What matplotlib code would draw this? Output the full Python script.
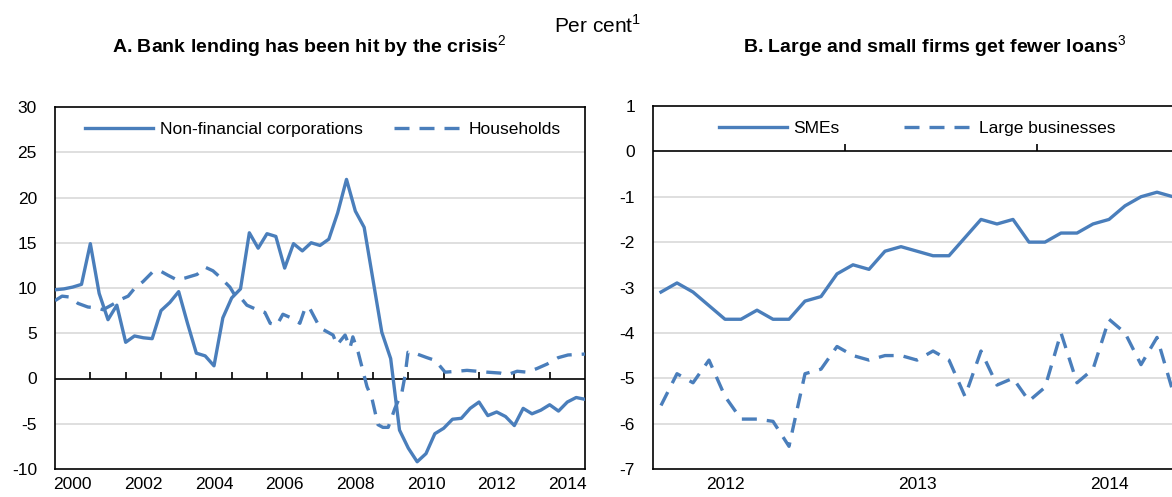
import numpy as np
import matplotlib.pyplot as plt

plt.rcParams['font.family'] = ['Liberation Sans', 'DejaVu Sans']
plt.rcParams['mathtext.fontset'] = 'custom'
plt.rcParams['mathtext.rm'] = 'Liberation Sans'
plt.rcParams['axes.unicode_minus'] = False

blue = '#4a7ebb'
grid_col = '#d9d9d9'

# panel A - quarterly, 2000 Q1 .. end 2014
nfc = [9.8, 9.9, 10.1, 10.4, 14.9, 9.4, 6.5, 8.1, 4.0, 4.7, 4.5, 4.4, 7.5, 8.4, 9.6,
       6.1, 2.8, 2.5, 1.4, 6.7, 8.9, 9.9, 16.1, 14.4, 16.0, 15.7, 12.2, 14.9, 14.1, 15.0,
       14.7, 15.4, 18.3, 22.0, 18.5, 16.7, 10.9, 5.1, 2.2, -5.7, -7.7, -9.2, -8.3, -6.1,
       -5.5, -4.5, -4.4, -3.3, -2.6, -4.1, -3.7, -4.2, -5.2, -3.3, -3.9, -3.5, -2.9, -3.6,
       -2.6, -2.1, -2.3]
nfc_x = 2000 + 0.25 * np.arange(len(nfc))

hh_x = [2000.00, 2000.20, 2000.42, 2000.65, 2000.79, 2000.93, 2001.19, 2001.36, 2001.64,
        2001.84, 2002.07, 2002.26, 2002.49, 2002.77, 2002.97, 2003.20, 2003.45, 2003.68,
        2004.02, 2004.25, 2004.47, 2004.67, 2004.95, 2005.09, 2005.24, 2005.43, 2005.72,
        2005.94, 2006.09, 2006.28, 2006.45, 2006.74, 2006.93, 2007.08, 2007.19, 2007.27,
        2007.50, 2007.73, 2007.87, 2007.98, 2008.21, 2008.35, 2008.43, 2008.58, 2008.83,
        2008.97, 2009.14, 2009.28, 2009.43, 2009.62, 2009.82, 2009.91, 2009.99, 2010.25,
        2010.53, 2010.76, 2011.04, 2011.38, 2011.66, 2012.23, 2012.60, 2012.79, 2013.08,
        2013.36, 2013.64, 2013.93, 2014.24, 2014.52, 2015.00]
hh = [8.6, 9.1, 9.0, 8.3, 8.1, 7.9, 7.8, 7.6, 8.2, 8.7, 9.1, 10.0, 10.7, 11.8, 11.9, 11.4,
      10.9, 11.1, 11.5, 12.3, 11.9, 11.2, 10.1, 9.2, 9.0, 8.1, 7.6, 7.3, 6.1, 5.9, 7.1, 6.6,
      6.1, 7.8, 7.9, 7.3, 5.6, 5.1, 4.8, 3.7, 4.8, 3.4, 4.6, 2.9, -0.9, -2.2, -5.1, -5.4,
      -5.4, -3.3, -1.5, 0.4, 2.9, 2.7, 2.3, 2.0, 0.7, 0.8, 0.9, 0.7, 0.6, 0.4, 0.8, 0.7,
      1.1, 1.6, 2.3, 2.6, 2.7]

years_a = list(range(2000, 2015))
labels_a = [str(y) for y in range(2000, 2015, 2)]

# panel B - monthly, from Sep 2011
smes = [-3.1, -2.9, -3.1, -3.4, -3.7, -3.7, -3.5, -3.7, -3.7, -3.3, -3.2, -2.7, -2.5,
        -2.6, -2.2, -2.1, -2.2, -2.3, -2.3, -1.9, -1.5, -1.6, -1.5, -2.0, -2.0, -1.8,
        -1.8, -1.6, -1.5, -1.2, -1.0, -0.9, -1.0]
large = [-5.6, -4.9, -5.1, -4.6, -5.4, -5.9, -5.9, -5.95, -6.5, -4.9, -4.8, -4.3, -4.5,
         -4.6, -4.5, -4.5, -4.6, -4.4, -4.6, -5.4, -4.4, -5.15, -5.0, -5.5, -5.2, -4.0,
         -5.1, -4.8, -3.7, -4.0, -4.7, -4.1, -5.3]
month_x = np.arange(len(smes)) + 0.5
labels_b = ['2012', '2013', '2014']
label_pos_b = [4.5, 16.5, 28.5]
tick_pos_b = [12, 24]

fig = plt.figure(figsize=(11.72, 4.97), dpi=100)
axA = fig.add_axes([55 / 1172, 28 / 497, 530 / 1172, 362 / 497])
axB = fig.add_axes([653 / 1172, 28 / 497, 530 / 1172, 363 / 497])

lw = 2.4
dash = (4.5, 3.0)


def style(ax, ymin, ymax, step):
    ax.set_ylim(ymin, ymax)
    ax.set_yticks(np.arange(ymin, ymax + step / 2, step))
    ax.tick_params(axis='y', length=0, pad=13, labelsize=12.5)
    ax.tick_params(axis='x', length=0, pad=6, labelsize=12.5)
    for yv in np.arange(ymin + step, ymax, step):
        if yv != 0:
            ax.axhline(yv, color=grid_col, lw=1.2, zorder=0)
    ax.axhline(0, color='black', lw=1.2, zorder=1)
    for s in ax.spines.values():
        s.set_linewidth(1.2)


# panel A
axA.plot(nfc_x, nfc, color=blue, lw=lw, label='Non-financial corporations', zorder=3)
axA.plot(hh_x, hh, color=blue, lw=lw, dashes=dash, label='Households', zorder=3)
axA.set_xlim(2000, 2015)
style(axA, -10, 30, 5)
axA.set_xticks([int(l) + 0.5 for l in labels_a])
axA.set_xticklabels(labels_a)
axA.plot(years_a[1:], np.zeros(len(years_a) - 1), ls='none', marker=2, ms=5, mew=1.2,
         color='black', zorder=2)
axA.legend(loc='center', bbox_to_anchor=(0.506, 0.939), ncol=2, frameon=False,
           fontsize=12.5, handlelength=3.9, handletextpad=0.4, columnspacing=1.8)

# panel B
axB.plot(month_x, smes, color=blue, lw=lw, label='SMEs', zorder=3)
axB.plot(month_x, large, color=blue, lw=lw, dashes=dash, label='Large businesses', zorder=3)
axB.set_xlim(0, 530 / 16)
style(axB, -7, 1, 1)
axB.set_xticks(label_pos_b)
axB.set_xticklabels(labels_b)
axB.plot(tick_pos_b, np.zeros(len(tick_pos_b)), ls='none', marker=2, ms=5, mew=1.2,
         color='black', zorder=2)
axB.legend(loc='center', bbox_to_anchor=(0.498, 0.937), ncol=2, frameon=False,
           fontsize=12.5, handlelength=3.9, handletextpad=0.4, columnspacing=3.7)

fig.text(598 / 1172, 1 - 25 / 497, 'Per cent$^{1}$', ha='center', va='center', fontsize=15)
fig.text(309 / 1172, 1 - 47 / 497, r'A. Bank lending has been hit by the crisis$^{2}$',
         ha='center', va='center', fontsize=14, fontweight='bold')
fig.text(935 / 1172, 1 - 47 / 497, r'B. Large and small firms get fewer loans$^{3}$',
         ha='center', va='center', fontsize=14, fontweight='bold')

fig.savefig('out.png', dpi=100)
